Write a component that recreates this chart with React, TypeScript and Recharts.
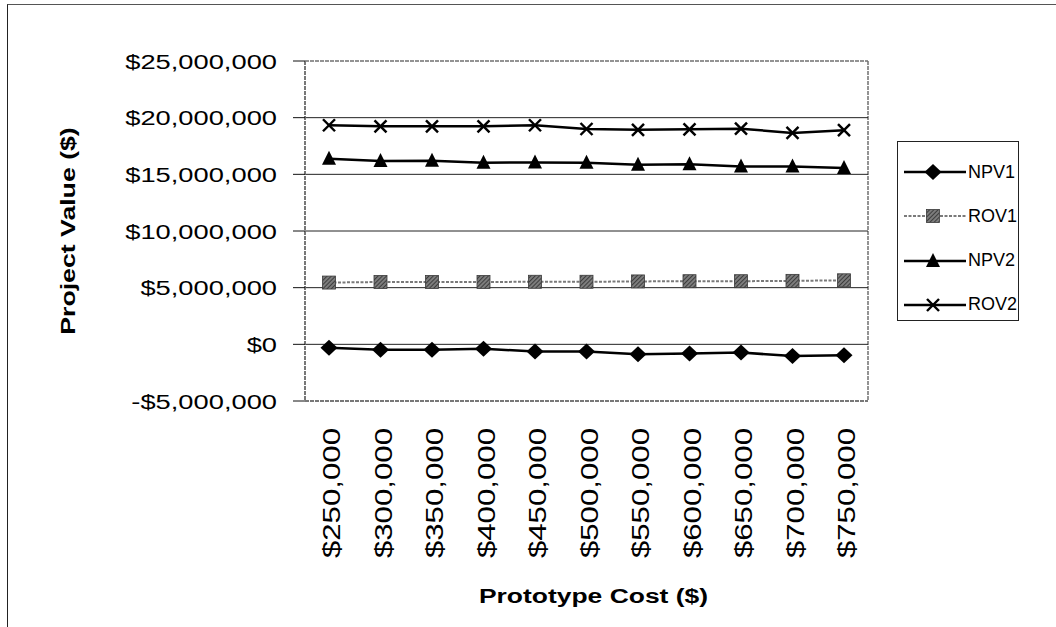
import React from "react";
import { LineChart, Line, XAxis, YAxis, ReferenceLine, CartesianGrid, Label } from "recharts";

// prototype cost scenarios on the x axis
const costs = [
  "$250,000", "$300,000", "$350,000", "$400,000", "$450,000", "$500,000",
  "$550,000", "$600,000", "$650,000", "$700,000", "$750,000",
];

const npv1 = [-300000, -470000, -470000, -400000, -630000, -630000, -870000, -800000, -730000, -1030000, -970000];
const rov1 = [5450000, 5500000, 5500000, 5500000, 5520000, 5520000, 5550000, 5570000, 5570000, 5600000, 5650000];
const npv2 = [16380000, 16170000, 16200000, 16030000, 16050000, 16030000, 15850000, 15900000, 15700000, 15700000, 15550000];
const rov2 = [19330000, 19240000, 19240000, 19240000, 19330000, 19000000, 18930000, 18970000, 19030000, 18650000, 18900000];

const yTicks = [-5000000, 0, 5000000, 10000000, 15000000, 20000000, 25000000];

const data = costs.map((cost, i) => ({
  cost,
  NPV1: npv1[i],
  ROV1: rov1[i],
  NPV2: npv2[i],
  ROV2: rov2[i],
}));

const FONT = "'Liberation Sans', Arial, Helvetica, sans-serif";

const money = (v: number) =>
  (v < 0 ? "-$" : "$") + Math.abs(v).toLocaleString("en-US");

// ---- markers ----
const Diamond = ({ cx, cy, key }: any) => (
  <polygon
    key={key}
    points={`${cx},${cy - 8} ${cx + 8.5},${cy} ${cx},${cy + 8} ${cx - 8.5},${cy}`}
    fill="#000"
  />
);

const Square = ({ cx, cy, key }: any) => (
  <rect key={key} x={cx - 6.5} y={cy - 6.5} width={13} height={13} fill="url(#rovHatch)" stroke="#3a3a3a" strokeWidth={0.8} />
);

const Triangle = ({ cx, cy, key }: any) => (
  <polygon key={key} points={`${cx},${cy - 8} ${cx + 7},${cy + 6} ${cx - 7},${cy + 6}`} fill="#000" />
);

const Cross = ({ cx, cy, key }: any) => (
  <g key={key} stroke="#000" strokeWidth={2.4}>
    <line x1={cx - 6} y1={cy - 6} x2={cx + 6} y2={cy + 6} />
    <line x1={cx - 6} y1={cy + 6} x2={cx + 6} y2={cy - 6} />
  </g>
);

const series = [
  { key: "NPV1", stroke: "#000", width: 2.5, dash: undefined, Marker: Diamond },
  { key: "ROV1", stroke: "#7a7a7a", width: 2, dash: "3 1.5", Marker: Square },
  { key: "NPV2", stroke: "#000", width: 2.5, dash: undefined, Marker: Triangle },
  { key: "ROV2", stroke: "#000", width: 2.5, dash: undefined, Marker: Cross },
];

// ---- ticks and titles ----
const YTick = ({ x, y, payload }: any) => (
  <g transform={`translate(${x - 14},${y}) scale(1.3,1)`}>
    <text textAnchor="end" dy="0.36em" fontSize={21} fill="#000" fontFamily={FONT}>
      {money(payload.value)}
    </text>
  </g>
);

const XTick = ({ x, y, payload }: any) => (
  <g transform={`translate(${x + 1.5},${y + 27}) rotate(-90) scale(1.3,1)`}>
    <text textAnchor="end" dy="0.4em" fontSize={24} fill="#000" fontFamily={FONT}>
      {payload.value}
    </text>
  </g>
);

const YTitle = ({ viewBox }: any) => (
  <g transform={`translate(${viewBox.x + 67},${viewBox.y + viewBox.height / 2}) rotate(-90) scale(1.27,1)`}>
    <text textAnchor="middle" dy="0.36em" fontSize={21} fontWeight="bold" fill="#000" fontFamily={FONT}>
      Project Value ($)
    </text>
  </g>
);

const XTitle = ({ viewBox }: any) => (
  <g transform={`translate(${viewBox.x + viewBox.width / 2 + 7},${viewBox.y + 194}) scale(1.26,1)`}>
    <text textAnchor="middle" dy="0.36em" fontSize={21} fontWeight="bold" fill="#000" fontFamily={FONT}>
      Prototype Cost ($)
    </text>
  </g>
);

const borderStroke = { stroke: "#707070", strokeWidth: 1.5, strokeDasharray: "4 1" };

// plot-area frame: lines on the four edges of the plotting offset
const frameCols = ({ offset }: any) => [offset.left, offset.left + offset.width];
const frameRows = ({ offset }: any) => [offset.top, offset.top + offset.height];

const LegendBox = () => (
  <div
    style={{
      position: "absolute",
      left: 897,
      top: 141,
      width: 122,
      height: 180,
      border: "1.5px solid #222",
      boxSizing: "border-box",
      background: "#fff",
      fontFamily: FONT,
      fontSize: 18,
      color: "#000",
    }}
  >
    {series.map((s, i) => (
      <div
        key={s.key}
        style={{ position: "absolute", left: 6, top: 19 + i * 44.3, height: 22, display: "flex", alignItems: "center" }}
      >
        <svg width={64} height={22}>
          <line x1={0} y1={11} x2={62} y2={11} stroke={s.stroke} strokeWidth={s.width} strokeDasharray={s.dash} />
          {s.Marker({ cx: 29, cy: 11, key: "m" })}
        </svg>
        <span style={{ marginLeft: 0 }}>{s.key}</span>
      </div>
    ))}
  </div>
);

export default function App() {
  return (
    <div style={{ position: "absolute", left: 0, top: 0, width: 1056, height: 627, background: "#fff" }}>
      <svg width={0} height={0} style={{ position: "absolute" }}>
        <defs>
          <pattern id="rovHatch" width={3} height={3} patternUnits="userSpaceOnUse" patternTransform="rotate(45)">
            <rect width={3} height={3} fill="#7c7c7c" />
            <line x1={0} y1={0} x2={0} y2={3} stroke="#2c2c2c" strokeWidth={1.6} />
          </pattern>
        </defs>
      </svg>
      <div
        style={{
          position: "absolute",
          left: 7,
          top: 4,
          width: 1049,
          height: 623,
          borderTop: "1px solid #555",
          borderLeft: "1.5px solid #222",
          boxSizing: "border-box",
        }}
      />
      <LineChart
        width={1056}
        height={627}
        data={data}
        margin={{ top: 61, right: 188, bottom: 26, left: 0 }}
        style={{ position: "absolute", left: 0, top: 0 }}
      >
        <CartesianGrid
          stroke="#707070"
          strokeWidth={1.5}
          strokeDasharray="4 1"
          verticalCoordinatesGenerator={frameCols}
          horizontalCoordinatesGenerator={frameRows}
        />
        <XAxis
          dataKey="cost"
          interval={0}
          height={200}
          padding={{ left: 24, right: 24 }}
          tickLine={false}
          tickSize={0}
          tickMargin={0}
          axisLine={borderStroke}
          tick={<XTick />}
        >
          <Label content={<XTitle />} />
        </XAxis>
        <YAxis
          domain={[-5000000, 25000000]}
          ticks={yTicks}
          interval={0}
          width={305}
          tickSize={12}
          tickLine={{ stroke: "#111", strokeWidth: 1 }}
          axisLine={borderStroke}
          tick={<YTick />}
        >
          <Label content={<YTitle />} />
        </YAxis>
        {yTicks.slice(1, -1).map((v) => (
          <ReferenceLine key={v} y={v} stroke="#222" strokeWidth={1} />
        ))}
        {series.map((s) => (
          <Line
            key={s.key}
            dataKey={s.key}
            stroke={s.stroke}
            strokeWidth={s.width}
            strokeDasharray={s.dash}
            dot={(p: any) => s.Marker({ cx: p.cx, cy: p.cy, key: `${s.key}-${p.index}` })}
            activeDot={false}
            isAnimationActive={false}
          />
        ))}
      </LineChart>
      <LegendBox />
    </div>
  );
}
